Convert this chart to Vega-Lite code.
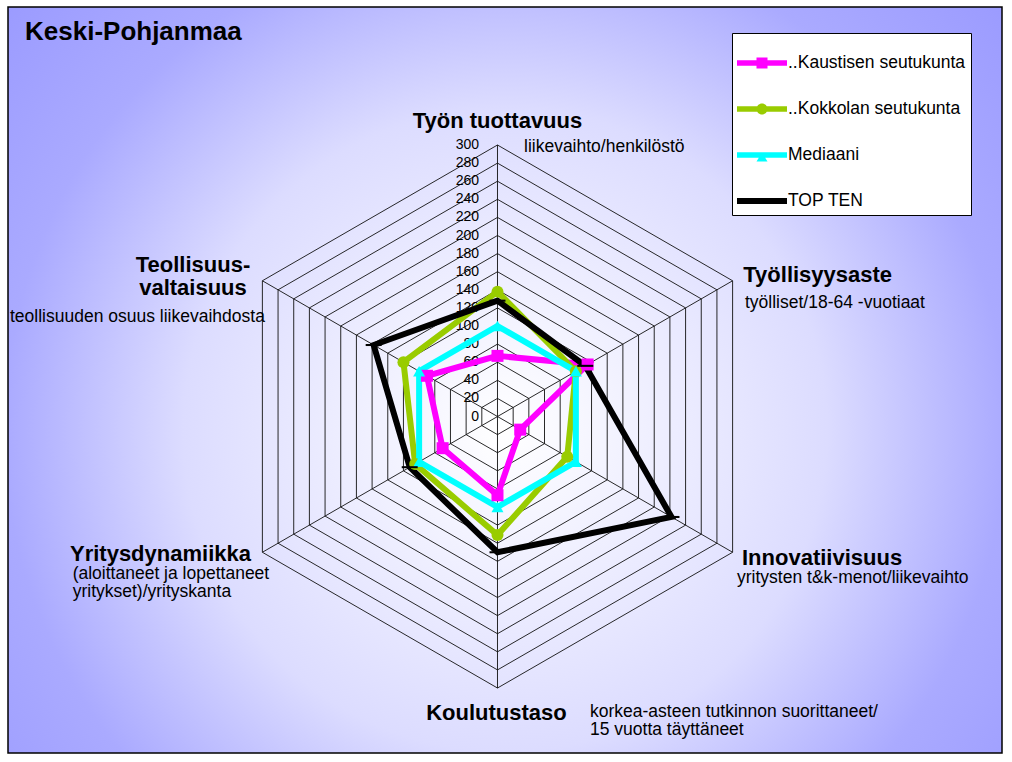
{
  "$schema": "https://vega.github.io/schema/vega-lite/v6.json",
  "width": 1012,
  "height": 762,
  "autosize": {"type": "fit", "contains": "padding"},
  "padding": {"left": 8, "top": 7, "right": 10, "bottom": 9},
  "background": "white",
  "config": {
    "view": {
      "fill": {"gradient": "radial", "x1": 0.5, "y1": 0.55, "x2": 0.5, "y2": 0.55, "r1": 0, "r2": 0.72,
        "stops": [{"offset": 0, "color": "#ffffff"}, {"offset": 0.45, "color": "#dcdcff"}, {"offset": 0.7, "color": "#aaaaff"}, {"offset": 1, "color": "#9595ff"}]},
      "stroke": "black",
      "strokeWidth": 1.5
    },
    "font": "Liberation Sans",
    "text": {"font": "Liberation Sans", "color": "black"},
    "legend": {"strokeWidth": 1}
  },
  "title": {"text": "Keski-Pohjanmaa", "anchor": "start", "frame": "group", "orient": "top", "offset": -59, "baseline": "alphabetic", "dx": 17, "fontSize": 26, "fontWeight": "bold", "font": "Liberation Sans", "color": "black"},
  "datasets": {
    "series": [
      {"series": "..Kaustisen seutukunta", "k": 0, "value": 67},
      {"series": "..Kaustisen seutukunta", "k": 1, "value": 115},
      {"series": "..Kaustisen seutukunta", "k": 2, "value": 29},
      {"series": "..Kaustisen seutukunta", "k": 3, "value": 87},
      {"series": "..Kaustisen seutukunta", "k": 4, "value": 70},
      {"series": "..Kaustisen seutukunta", "k": 5, "value": 90},
      {"series": "..Kokkolan seutukunta", "k": 0, "value": 138},
      {"series": "..Kokkolan seutukunta", "k": 1, "value": 100},
      {"series": "..Kokkolan seutukunta", "k": 2, "value": 89},
      {"series": "..Kokkolan seutukunta", "k": 3, "value": 131},
      {"series": "..Kokkolan seutukunta", "k": 4, "value": 105},
      {"series": "..Kokkolan seutukunta", "k": 5, "value": 120},
      {"series": "Mediaani", "k": 0, "value": 100},
      {"series": "Mediaani", "k": 1, "value": 100},
      {"series": "Mediaani", "k": 2, "value": 100},
      {"series": "Mediaani", "k": 3, "value": 100},
      {"series": "Mediaani", "k": 4, "value": 100},
      {"series": "Mediaani", "k": 5, "value": 100},
      {"series": "TOP TEN", "k": 0, "value": 128},
      {"series": "TOP TEN", "k": 1, "value": 112},
      {"series": "TOP TEN", "k": 2, "value": 222},
      {"series": "TOP TEN", "k": 3, "value": 150},
      {"series": "TOP TEN", "k": 4, "value": 112},
      {"series": "TOP TEN", "k": 5, "value": 158}
    ],
    "cats": [
      {"k": 0, "name": "Työn tuottavuus", "sub": "liikevaihto/henkilöstö", "rings": [20,40,60,80,100,120,140,160,180,200,220,240,260,280,300]},
      {"k": 1, "name": "Työllisyysaste", "sub": "työlliset/18-64 -vuotiaat", "rings": [20,40,60,80,100,120,140,160,180,200,220,240,260,280,300]},
      {"k": 2, "name": "Innovatiivisuus", "sub": "yritysten t&k-menot/liikevaihto", "rings": [20,40,60,80,100,120,140,160,180,200,220,240,260,280,300]},
      {"k": 3, "name": "Koulutustaso", "sub": "korkea-asteen tutkinnon suorittaneet/\n15 vuotta täyttäneet", "rings": [20,40,60,80,100,120,140,160,180,200,220,240,260,280,300]},
      {"k": 4, "name": "Yritysdynamiikka", "sub": "(aloittaneet ja lopettaneet\nyritykset)/yrityskanta", "rings": [20,40,60,80,100,120,140,160,180,200,220,240,260,280,300]},
      {"k": 5, "name": "Teollisuus-\nvaltaisuus", "sub": "teollisuuden osuus liikevaihdosta", "rings": [20,40,60,80,100,120,140,160,180,200,220,240,260,280,300]}
    ],
    "ticks": [{"v": 0}, {"v": 20}, {"v": 40}, {"v": 60}, {"v": 80}, {"v": 100}, {"v": 120}, {"v": 140}, {"v": 160}, {"v": 180}, {"v": 200}, {"v": 220}, {"v": 240}, {"v": 260}, {"v": 280}, {"v": 300}]
  },
  "encoding": {
    "x": {"field": "x", "type": "quantitative", "scale": {"domain": [-540.9, 557.5], "nice": false, "zero": false}, "axis": null},
    "y": {"field": "y", "type": "quantitative", "scale": {"domain": [-371.8, 452.5], "nice": false, "zero": false}, "axis": null}
  },
  "layer": [
    {
      "data": {"name": "cats"},
      "transform": [
        {"flatten": ["rings"], "as": ["ring"]},
        {"calculate": "datum.ring*sin(datum.k*PI/3)", "as": "x"},
        {"calculate": "datum.ring*cos(datum.k*PI/3)", "as": "y"}
      ],
      "mark": {"type": "line", "interpolate": "linear-closed", "color": "#111111", "strokeWidth": 0.9},
      "encoding": {"detail": {"field": "ring"}, "order": {"field": "k"}}
    },
    {
      "data": {"name": "cats"},
      "transform": [
        {"calculate": "300*sin(datum.k*PI/3)", "as": "x"},
        {"calculate": "300*cos(datum.k*PI/3)", "as": "y"}
      ],
      "mark": {"type": "rule", "color": "#111111", "strokeWidth": 0.9},
      "encoding": {"x2": {"datum": 0}, "y2": {"datum": 0}}
    },
    {
      "data": {"name": "ticks"},
      "transform": [
        {"calculate": "0", "as": "x"},
        {"calculate": "datum.v", "as": "y"}
      ],
      "mark": {"type": "text", "align": "right", "baseline": "middle", "dx": -18.5, "fontSize": 14},
      "encoding": {"text": {"field": "v", "type": "quantitative"}}
    },
    {
      "data": {"name": "series"},
      "transform": [
        {"calculate": "datum.value*sin(datum.k*PI/3)", "as": "x"},
        {"calculate": "datum.value*cos(datum.k*PI/3)", "as": "y"}
      ],
      "mark": {"type": "line", "interpolate": "linear-closed", "strokeWidth": 6},
      "encoding": {
        "color": {"field": "series", "type": "nominal", "scale": {"domain": ["..Kaustisen seutukunta", "..Kokkolan seutukunta", "Mediaani", "TOP TEN"], "range": ["#ff00ff", "#99cc00", "#00ffff", "#000000"]}, "legend": null},
        "order": {"field": "k"}
      }
    },
    {
      "data": {"name": "series"},
      "transform": [
        {"calculate": "datum.value*sin(datum.k*PI/3)", "as": "x"},
        {"calculate": "datum.value*cos(datum.k*PI/3)", "as": "y"}
      ],
      "mark": {"type": "point", "filled": true, "opacity": 1, "size": 144},
      "encoding": {
        "color": {"field": "series", "type": "nominal", "scale": {"domain": ["..Kaustisen seutukunta", "..Kokkolan seutukunta", "Mediaani", "TOP TEN"], "range": ["#ff00ff", "#99cc00", "#00ffff", "#000000"]}, "legend": null},
        "shape": {"field": "series", "type": "nominal", "scale": {"domain": ["..Kaustisen seutukunta", "..Kokkolan seutukunta", "Mediaani", "TOP TEN"], "range": ["square", "circle", "triangle-up", "M-1.33,-0.17H1.33V0.17H-1.33Z"]}, "legend": null}
      }
    },
    {
      "data": {"name": "series"},
      "transform": [
        {"calculate": "datum.value*sin(datum.k*PI/3)", "as": "x"},
        {"calculate": "datum.value*cos(datum.k*PI/3)", "as": "y"}
      ],
      "mark": {"type": "point", "filled": true, "opacity": 0},
      "encoding": {
        "color": {"field": "series", "type": "nominal", "scale": {"domain": ["..Kaustisen seutukunta", "..Kokkolan seutukunta", "Mediaani", "TOP TEN"], "range": ["#ff00ff", "#99cc00", "#00ffff", "#000000"]},
          "legend": {"title": null, "orient": "none", "legendX": 724, "legendY": 26, "fillColor": "white", "strokeColor": "black", "padding": 5, "symbolSize": 2500, "symbolStrokeWidth": 0, "symbolOpacity": 1, "labelFontSize": 17.5, "labelFont": "Liberation Sans", "labelColor": "black", "labelLimit": 400, "labelOffset": 1, "rowPadding": 12}},
        "shape": {"field": "series", "type": "nominal", "scale": {"domain": ["..Kaustisen seutukunta", "..Kokkolan seutukunta", "Mediaani", "TOP TEN"], "range": [
          "M-1,-0.11H1V0.11H-1Z M-0.22,-0.22H0.22V0.22H-0.22Z",
          "M-1,-0.11H1V0.11H-1Z M-0.22,0A0.22,0.22,0,1,1,0.22,0A0.22,0.22,0,1,1,-0.22,0Z",
          "M-1,-0.11H1V0.11H-1Z M0,-0.1L0.22,0.26H-0.22Z",
          "M-1,-0.12H1V0.12H-1Z"]},
          "legend": {"title": null, "orient": "none", "legendX": 724, "legendY": 26, "fillColor": "white", "strokeColor": "black", "padding": 5, "symbolSize": 2500, "symbolStrokeWidth": 0, "symbolOpacity": 1, "labelFontSize": 17.5, "labelFont": "Liberation Sans", "labelColor": "black", "labelLimit": 400, "labelOffset": 1, "rowPadding": 12}}
      }
    },
    {
      "data": {"name": "cats"},
      "transform": [{"filter": "datum.k == 0"}, {"calculate": "300*sin(datum.k*PI/3)", "as": "x"}, {"calculate": "300*cos(datum.k*PI/3)", "as": "y"}],
      "mark": {"type": "text", "align": "center", "baseline": "alphabetic", "dx": 0, "dy": -17, "fontSize": 22, "fontWeight": "bold"},
      "encoding": {"text": {"field": "name"}}
    },
    {
      "data": {"name": "cats"},
      "transform": [{"filter": "datum.k == 1"}, {"calculate": "300*sin(datum.k*PI/3)", "as": "x"}, {"calculate": "300*cos(datum.k*PI/3)", "as": "y"}],
      "mark": {"type": "text", "align": "left", "baseline": "alphabetic", "dx": 10.7, "dy": 1, "fontSize": 22, "fontWeight": "bold"},
      "encoding": {"text": {"field": "name"}}
    },
    {
      "data": {"name": "cats"},
      "transform": [{"filter": "datum.k == 2"}, {"calculate": "300*sin(datum.k*PI/3)", "as": "x"}, {"calculate": "300*cos(datum.k*PI/3)", "as": "y"}],
      "mark": {"type": "text", "align": "left", "baseline": "alphabetic", "dx": 9.4, "dy": 12.75, "fontSize": 22, "fontWeight": "bold"},
      "encoding": {"text": {"field": "name"}}
    },
    {
      "data": {"name": "cats"},
      "transform": [{"filter": "datum.k == 3"}, {"calculate": "300*sin(datum.k*PI/3)", "as": "x"}, {"calculate": "300*cos(datum.k*PI/3)", "as": "y"}],
      "mark": {"type": "text", "align": "center", "baseline": "alphabetic", "dx": -1, "dy": 32, "fontSize": 22, "fontWeight": "bold"},
      "encoding": {"text": {"field": "name"}}
    },
    {
      "data": {"name": "cats"},
      "transform": [{"filter": "datum.k == 4"}, {"calculate": "300*sin(datum.k*PI/3)", "as": "x"}, {"calculate": "300*cos(datum.k*PI/3)", "as": "y"}],
      "mark": {"type": "text", "align": "left", "baseline": "alphabetic", "dx": -192.4, "dy": 8.75, "fontSize": 22, "fontWeight": "bold"},
      "encoding": {"text": {"field": "name"}}
    },
    {
      "data": {"name": "cats"},
      "transform": [{"filter": "datum.k == 5"}, {"calculate": "300*sin(datum.k*PI/3)", "as": "x"}, {"calculate": "300*cos(datum.k*PI/3)", "as": "y"}],
      "mark": {"type": "text", "align": "center", "baseline": "alphabetic", "dx": -69.4, "dy": -9, "fontSize": 22, "fontWeight": "bold", "lineBreak": "\n", "lineHeight": 23.3},
      "encoding": {"text": {"field": "name"}}
    },
    {
      "data": {"name": "cats"},
      "transform": [{"filter": "datum.k == 0"}, {"calculate": "300*sin(datum.k*PI/3)", "as": "x"}, {"calculate": "300*cos(datum.k*PI/3)", "as": "y"}],
      "mark": {"type": "text", "align": "left", "baseline": "alphabetic", "dx": 26.5, "dy": 6.7, "fontSize": 17.5},
      "encoding": {"text": {"field": "sub"}}
    },
    {
      "data": {"name": "cats"},
      "transform": [{"filter": "datum.k == 1"}, {"calculate": "300*sin(datum.k*PI/3)", "as": "x"}, {"calculate": "300*cos(datum.k*PI/3)", "as": "y"}],
      "mark": {"type": "text", "align": "left", "baseline": "alphabetic", "dx": 12.4, "dy": 27.6, "fontSize": 17.5},
      "encoding": {"text": {"field": "sub"}}
    },
    {
      "data": {"name": "cats"},
      "transform": [{"filter": "datum.k == 2"}, {"calculate": "300*sin(datum.k*PI/3)", "as": "x"}, {"calculate": "300*cos(datum.k*PI/3)", "as": "y"}],
      "mark": {"type": "text", "align": "left", "baseline": "alphabetic", "dx": 4.4, "dy": 31, "fontSize": 17.5},
      "encoding": {"text": {"field": "sub"}}
    },
    {
      "data": {"name": "cats"},
      "transform": [{"filter": "datum.k == 3"}, {"calculate": "300*sin(datum.k*PI/3)", "as": "x"}, {"calculate": "300*cos(datum.k*PI/3)", "as": "y"}],
      "mark": {"type": "text", "align": "left", "baseline": "alphabetic", "dx": 92.5, "dy": 29, "fontSize": 17.5, "lineBreak": "\n", "lineHeight": 18},
      "encoding": {"text": {"field": "sub"}}
    },
    {
      "data": {"name": "cats"},
      "transform": [{"filter": "datum.k == 4"}, {"calculate": "300*sin(datum.k*PI/3)", "as": "x"}, {"calculate": "300*cos(datum.k*PI/3)", "as": "y"}],
      "mark": {"type": "text", "align": "left", "baseline": "alphabetic", "dx": -189.7, "dy": 26.75, "fontSize": 17.5, "lineBreak": "\n", "lineHeight": 17.7},
      "encoding": {"text": {"field": "sub"}}
    },
    {
      "data": {"name": "cats"},
      "transform": [{"filter": "datum.k == 5"}, {"calculate": "300*sin(datum.k*PI/3)", "as": "x"}, {"calculate": "300*cos(datum.k*PI/3)", "as": "y"}],
      "mark": {"type": "text", "align": "left", "baseline": "alphabetic", "dx": -252.4, "dy": 41, "fontSize": 17.5},
      "encoding": {"text": {"field": "sub"}}
    }
  ],
  "resolve": {"scale": {"color": "independent", "shape": "independent"}}
}
